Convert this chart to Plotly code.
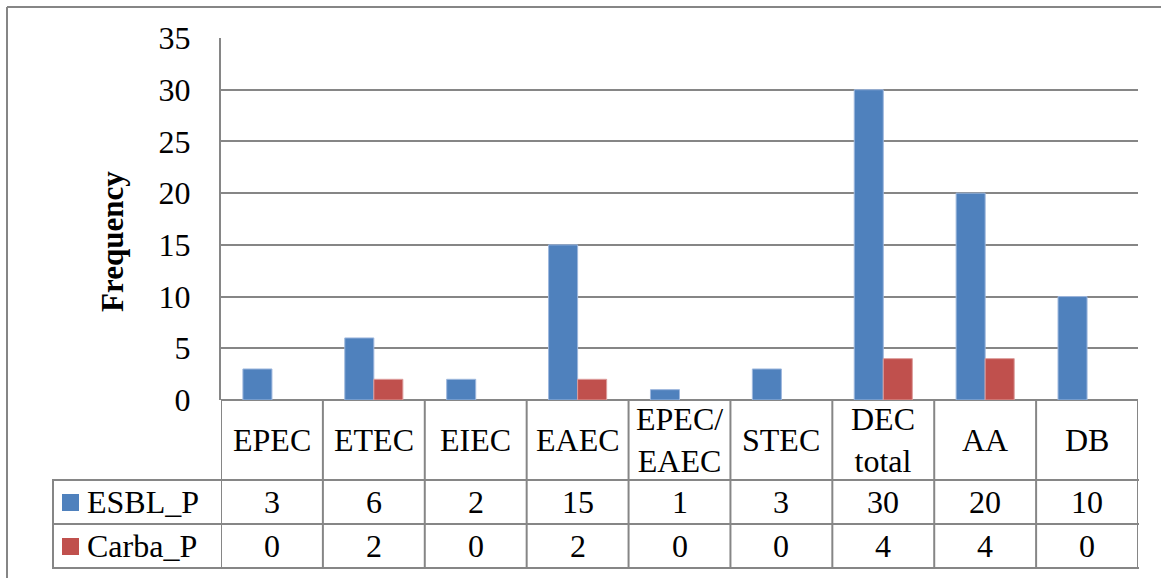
import plotly.graph_objects as go

categories = ["EPEC", "ETEC", "EIEC", "EAEC", "EPEC/<br>EAEC", "STEC", "DEC<br>total", "AA", "DB"]
esbl_p = [3, 6, 2, 15, 1, 3, 30, 20, 10]
carba_p = [0, 2, 0, 2, 0, 0, 4, 4, 0]
series_names = ["ESBL_P", "Carba_P"]
y_ticks = [0, 5, 10, 15, 20, 25, 30, 35]

W, H = 1161, 578
BLUE = "#4F81BD"
RED = "#C0504D"
GRID = "#868686"
FONT = "Liberation Serif, Times New Roman, serif"


def py(p):
    return 1 - p / H


def px(p):
    return p / W


def edge_widths(vals):
    return [1 if v > 0 else 0 for v in vals]


x_idx = list(range(len(categories)))

fig = go.Figure()
fig.add_trace(go.Bar(x=x_idx, y=esbl_p, name=series_names[0],
                     marker=dict(color=BLUE, line=dict(color="#9DB7DD", width=edge_widths(esbl_p)))))
fig.add_trace(go.Bar(x=x_idx, y=carba_p, name=series_names[1],
                     marker=dict(color=RED, line=dict(color="#DC9C9B", width=edge_widths(carba_p)))))

shapes = []
line = dict(color=GRID, width=2)
# vertical table rules at category boundaries
n = len(categories)
for i in range(n + 1):
    shapes.append(dict(type="line", xref="x", yref="paper", x0=i - 0.5, x1=i - 0.5,
                       y0=py(400), y1=py(568), line=line, layer="above"))
# horizontal rules of the data table
for yy in (480, 524, 568):
    shapes.append(dict(type="line", xref="paper", yref="paper", x0=px(53), x1=px(1139),
                       y0=py(yy), y1=py(yy), line=line))
shapes.append(dict(type="line", xref="paper", yref="paper", x0=px(53), x1=px(53),
                   y0=py(479), y1=py(569), line=line))
# outer chart border
shapes.append(dict(type="line", xref="paper", yref="paper", x0=px(7), x1=1,
                   y0=py(7), y1=py(7), line=line))
shapes.append(dict(type="line", xref="paper", yref="paper", x0=px(7), x1=px(7),
                   y0=py(7), y1=0, line=line))
# legend keys
for (yt, col) in ((494, BLUE), (538, RED)):
    shapes.append(dict(type="rect", xref="paper", yref="paper", x0=px(62), x1=px(79),
                       y0=py(yt + 17), y1=py(yt), fillcolor=col, line=dict(width=0)))

txt = dict(family=FONT, size=32, color="black")
annotations = []
for i, c in enumerate(categories):
    annotations.append(dict(x=i, y=py(440), xref="x", yref="paper", text=c, showarrow=False,
                            font=txt, xanchor="center", yanchor="middle"))
    annotations.append(dict(x=i, y=py(502), xref="x", yref="paper", text=str(esbl_p[i]),
                            showarrow=False, font=txt, xanchor="center", yanchor="middle"))
    annotations.append(dict(x=i, y=py(546), xref="x", yref="paper", text=str(carba_p[i]),
                            showarrow=False, font=txt, xanchor="center", yanchor="middle"))
for name, yy in zip(series_names, (502, 546)):
    annotations.append(dict(x=px(85), y=py(yy), xref="paper", yref="paper", text=name,
                            showarrow=False, font=txt, xanchor="left", yanchor="middle"))
annotations.append(dict(x=px(112), y=py(242), xref="paper", yref="paper", text="<b>Frequency</b>",
                        textangle=-90, showarrow=False,
                        font=dict(family=FONT, size=31, color="black"),
                        xanchor="center", yanchor="middle"))

fig.update_layout(
    width=W, height=H,
    margin=dict(l=0, r=0, t=0, b=0, pad=0),
    paper_bgcolor="white", plot_bgcolor="white",
    barmode="group", bargap=0.43, bargroupgap=0,
    showlegend=False,
    font=txt,
    xaxis=dict(domain=[px(221), px(1138)], range=[-0.5, n - 0.5], automargin=False,
               showticklabels=False, showgrid=False, zeroline=False, showline=False),
    yaxis=dict(domain=[py(400), py(38)], range=[0, 35], tickvals=y_ticks, automargin=False,
               showgrid=True, gridcolor=GRID, gridwidth=2,
               showline=True, linecolor=GRID, linewidth=2,
               zeroline=True, zerolinecolor=GRID, zerolinewidth=2,
               ticks="", ticklabelstandoff=22, tickfont=txt),
    shapes=shapes,
    annotations=annotations,
)

fig.write_html("out.html")
